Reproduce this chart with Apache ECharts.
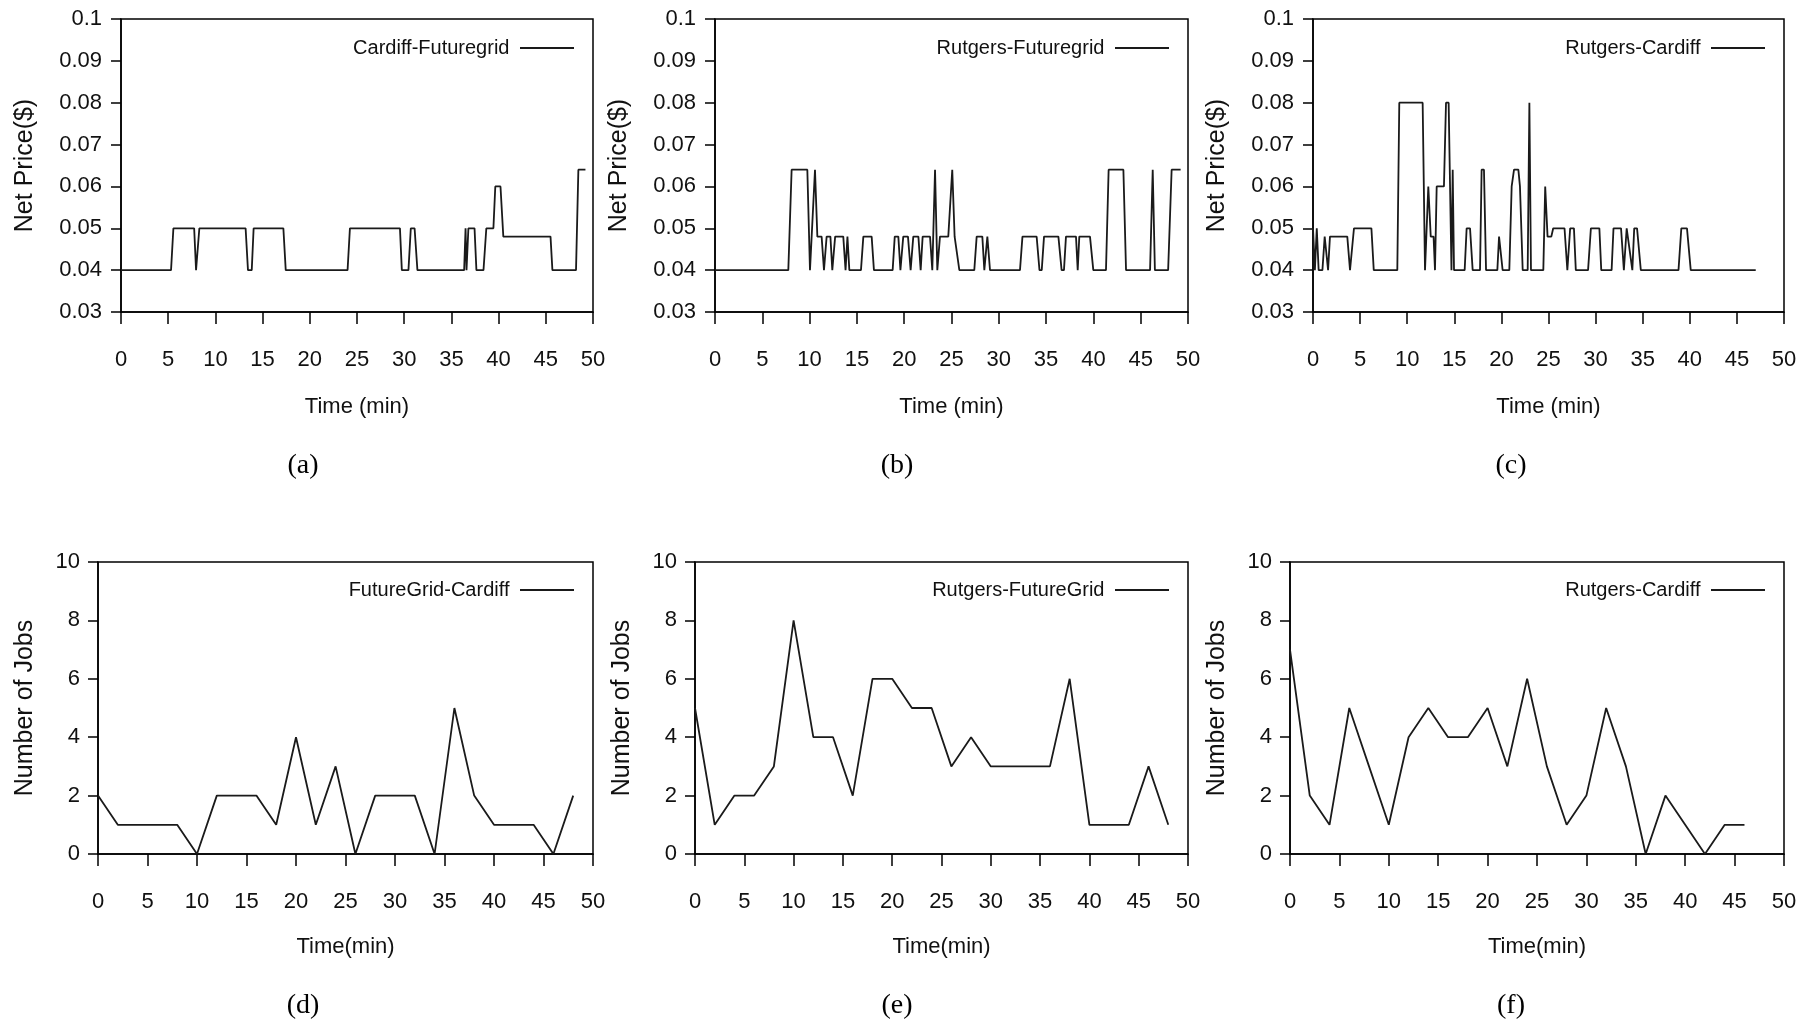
<!DOCTYPE html>
<html>
<head>
<meta charset="utf-8">
<script src="https://cdn.jsdelivr.net/npm/echarts@6/dist/echarts.min.js"></script>
<style>
  html, body { margin: 0; padding: 0; background: #fff; }
  #chart { width: 1811px; height: 1023px; }
</style>
</head>
<body>
<div id="chart"></div>
<script>
// ---- Net price traces (minutes, $) ----
const cfTime  = [0, 5.3, 5.55, 7.75, 7.95, 8.3, 13.2, 13.45, 13.85, 14.05, 17.2, 17.45, 24.0, 24.25, 29.55, 29.75, 30.45, 30.7, 31.1, 31.4, 36.35, 36.5, 36.6, 36.8, 37.45, 37.65, 38.4, 38.7, 39.45, 39.65, 40.2, 40.5, 45.5, 45.7, 48.2, 48.45, 49.2];
const cfPrice = [0.04, 0.04, 0.05, 0.05, 0.04, 0.05, 0.05, 0.04, 0.04, 0.05, 0.05, 0.04, 0.04, 0.05, 0.05, 0.04, 0.04, 0.05, 0.05, 0.04, 0.04, 0.05, 0.04, 0.05, 0.05, 0.04, 0.04, 0.05, 0.05, 0.06, 0.06, 0.048, 0.048, 0.04, 0.04, 0.064, 0.064];

const rfTime  = [0, 7.75, 8.1, 9.76, 10.04, 10.57, 10.82, 11.27, 11.52, 11.8, 12.2, 12.4, 12.7, 13.56, 13.8, 14.0, 14.2, 15.43, 15.68, 16.56, 16.8, 18.78, 19.0, 19.38, 19.6, 19.9, 20.4, 20.68, 20.96, 21.5, 21.74, 21.95, 22.73, 22.97, 23.26, 23.5, 23.78, 24.66, 25.08, 25.33, 25.83, 27.41, 27.66, 28.26, 28.47, 28.79, 29.07, 32.24, 32.5, 34.0, 34.3, 34.54, 34.78, 36.3, 36.64, 36.89, 37.1, 38.16, 38.34, 38.51, 39.64, 39.99, 41.33, 41.61, 43.17, 43.45, 45.99, 46.27, 46.5, 47.9, 48.27, 49.22];
const rfPrice = [0.04, 0.04, 0.064, 0.064, 0.04, 0.064, 0.048, 0.048, 0.04, 0.048, 0.048, 0.04, 0.048, 0.048, 0.04, 0.048, 0.04, 0.04, 0.048, 0.048, 0.04, 0.04, 0.048, 0.048, 0.04, 0.048, 0.048, 0.04, 0.048, 0.048, 0.04, 0.048, 0.048, 0.04, 0.064, 0.04, 0.048, 0.048, 0.064, 0.048, 0.04, 0.04, 0.048, 0.048, 0.04, 0.048, 0.04, 0.04, 0.048, 0.048, 0.04, 0.04, 0.048, 0.048, 0.04, 0.04, 0.048, 0.048, 0.04, 0.048, 0.048, 0.04, 0.04, 0.064, 0.064, 0.04, 0.04, 0.064, 0.04, 0.04, 0.064, 0.064];

const rcTime  = [0, 0.2, 0.4, 0.6, 1.0, 1.24, 1.6, 1.8, 3.64, 3.93, 4.14, 4.35, 6.2, 6.45, 8.95, 9.16, 11.64, 11.89, 12.24, 12.5, 12.8, 12.95, 13.13, 13.9, 14.12, 14.4, 14.7, 14.83, 14.97, 16.1, 16.31, 16.67, 16.95, 17.73, 17.9, 18.15, 18.37, 19.57, 19.75, 19.96, 20.13, 20.84, 21.09, 21.34, 21.8, 21.97, 22.26, 22.79, 22.97, 23.14, 24.45, 24.65, 24.9, 25.3, 25.5, 26.7, 27.0, 27.3, 27.7, 27.9, 29.2, 29.5, 30.4, 30.6, 31.7, 31.9, 32.7, 33.0, 33.3, 33.5, 33.9, 34.1, 34.4, 34.8, 38.8, 39.1, 39.7, 40.1, 47.0];
const rcPrice = [0.05, 0.04, 0.05, 0.04, 0.04, 0.048, 0.04, 0.048, 0.048, 0.04, 0.04, 0.05, 0.05, 0.04, 0.04, 0.08, 0.08, 0.04, 0.06, 0.048, 0.048, 0.04, 0.06, 0.06, 0.08, 0.08, 0.04, 0.064, 0.04, 0.04, 0.05, 0.05, 0.04, 0.04, 0.064, 0.064, 0.04, 0.04, 0.048, 0.048, 0.04, 0.04, 0.06, 0.064, 0.064, 0.06, 0.04, 0.04, 0.08, 0.04, 0.04, 0.06, 0.048, 0.048, 0.05, 0.05, 0.04, 0.05, 0.05, 0.04, 0.04, 0.05, 0.05, 0.04, 0.04, 0.05, 0.05, 0.04, 0.05, 0.05, 0.04, 0.05, 0.05, 0.04, 0.04, 0.05, 0.05, 0.04, 0.04];

// ---- Job counts sampled every two minutes ----
const jobTime  = [0, 2, 4, 6, 8, 10, 12, 14, 16, 18, 20, 22, 24, 26, 28, 30, 32, 34, 36, 38, 40, 42, 44, 46, 48];
const fgcJobs  = [2, 1, 1, 1, 1, 0, 2, 2, 2, 1, 4, 1, 3, 0, 2, 2, 2, 0, 5, 2, 1, 1, 1, 0, 2];
const rfgJobs  = [5, 1, 2, 2, 3, 8, 4, 4, 2, 6, 6, 5, 5, 3, 4, 3, 3, 3, 3, 6, 1, 1, 1, 3, 1];
const rcJobs   = [7, 2, 1, 5, 3, 1, 4, 5, 4, 4, 5, 3, 6, 3, 1, 2, 5, 3, 0, 2, 1, 0, 1, 1];

// ---- Axis tick values ----
const timeTicks  = { min: 0, max: 50, step: 5 };
const priceTicks = { min: 0.03, max: 0.1, step: 0.01 };
const jobTicks   = { min: 0, max: 10, step: 2 };

const SANS = '"Liberation Sans", Arial, sans-serif';
const SERIF = '"Liberation Serif", "Times New Roman", serif';
const INK = '#111';

const zip = (xs, ys) => ys.map((y, i) => [xs[i], y]);

const panels = [
  { name: 'Cardiff-Futuregrid', x: cfTime, y: cfPrice, box: [121, 19, 472, 293], kind: 'price', xName: 'Time (min)', cap: '(a)', capX: 303, capY: 466 },
  { name: 'Rutgers-Futuregrid', x: rfTime, y: rfPrice, box: [715, 19, 473, 293], kind: 'price', xName: 'Time (min)', cap: '(b)', capX: 897, capY: 466 },
  { name: 'Rutgers-Cardiff',    x: rcTime, y: rcPrice, box: [1313, 19, 471, 293], kind: 'price', xName: 'Time (min)', cap: '(c)', capX: 1511, capY: 466 },
  { name: 'FutureGrid-Cardiff', x: jobTime, y: fgcJobs, box: [98, 562, 495, 292], kind: 'jobs', xName: 'Time(min)', cap: '(d)', capX: 303, capY: 1006 },
  { name: 'Rutgers-FutureGrid', x: jobTime, y: rfgJobs, box: [695, 562, 493, 292], kind: 'jobs', xName: 'Time(min)', cap: '(e)', capX: 897, capY: 1006 },
  { name: 'Rutgers-Cardiff',    x: jobTime, y: rcJobs,  box: [1290, 562, 494, 292], kind: 'jobs', xName: 'Time(min)', cap: '(f)', capX: 1511, capY: 1006 }
];

const W = 1811;
const grid = [], xAxis = [], yAxis = [], series = [], legend = [], graphic = [];

panels.forEach((p, i) => {
  const [left, top, width, height] = p.box;
  const isPrice = p.kind === 'price';
  grid.push({ left, top, width, height, show: true, borderColor: '#000', borderWidth: 1.5, backgroundColor: 'transparent', containLabel: false });

  xAxis.push({
    type: 'value', gridIndex: i,
    min: timeTicks.min, max: timeTicks.max, interval: timeTicks.step,
    name: p.xName, nameLocation: 'middle', nameGap: isPrice ? 84 : 82,
    nameTextStyle: { fontFamily: SANS, fontSize: 22, color: INK },
    axisLine: { show: true, onZero: false, lineStyle: { color: '#000', width: 1.5 } },
    axisTick: { show: true, inside: false, length: 12, lineStyle: { color: '#000', width: 1.5 } },
    axisLabel: { margin: 37, fontFamily: SANS, fontSize: 22, color: INK },
    splitLine: { show: false }
  });

  const t = isPrice ? priceTicks : jobTicks;
  yAxis.push({
    type: 'value', gridIndex: i,
    min: t.min, max: t.max, interval: t.step,
    name: isPrice ? 'Net Price($)' : 'Number of Jobs',
    nameLocation: 'middle', nameRotate: 90, nameGap: isPrice ? 83 : 60,
    nameTextStyle: { fontFamily: SANS, fontSize: 25, color: INK },
    axisLine: { show: true, onZero: false, lineStyle: { color: '#000', width: 1.5 } },
    axisTick: { show: true, inside: false, length: 10, lineStyle: { color: '#000', width: 1.5 } },
    axisLabel: {
      margin: isPrice ? 19 : 18, fontFamily: SANS, fontSize: 22, color: INK,
      formatter: v => isPrice ? String(+v.toFixed(2)) : String(Math.round(v))
    },
    splitLine: { show: false }
  });

  series.push({
    type: 'line', name: p.name, xAxisIndex: i, yAxisIndex: i,
    data: zip(p.x, p.y),
    showSymbol: false, symbol: 'none',
    color: '#1a1a1a',
    lineStyle: { color: '#1a1a1a', width: 1.8 },
    animation: false
  });

  legend.push({
    data: [p.name],
    right: W - (left + width - 19),
    top: top + (isPrice ? 19 : 18),
    align: 'right', orient: 'horizontal',
    icon: 'rect', itemWidth: 54, itemHeight: 2,
    selectedMode: false, padding: 0,
    formatter: n => n + ' ',
    textStyle: { fontFamily: SANS, fontSize: 20, color: INK }
  });

  graphic.push({
    type: 'text', x: p.capX, y: p.capY,
    style: { text: p.cap, font: '28px ' + SERIF, fill: '#000', align: 'center', verticalAlign: 'middle' }
  });
});

const chart = echarts.init(document.getElementById('chart'), null, { renderer: 'canvas' });
chart.setOption({
  backgroundColor: '#fff',
  animation: false,
  grid, xAxis, yAxis, series, legend, graphic
});
</script>
</body>
</html>
